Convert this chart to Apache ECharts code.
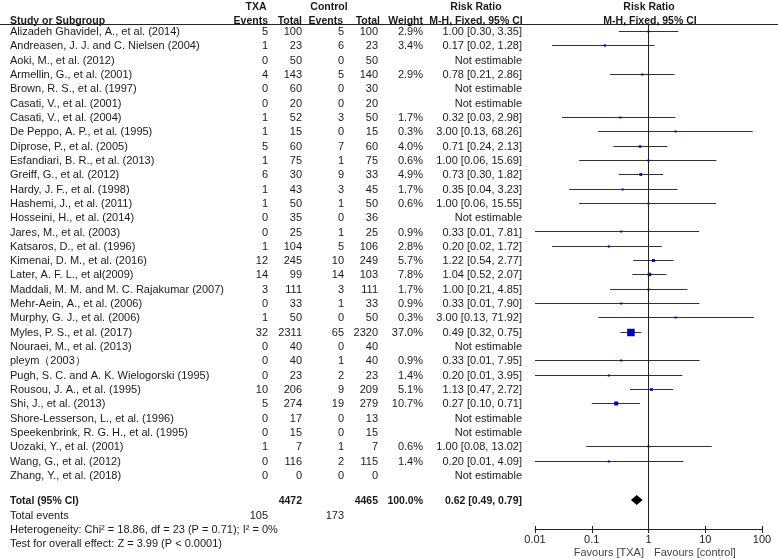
<!DOCTYPE html>
<html>
<head>
<meta charset="utf-8">
<script src="https://cdn.jsdelivr.net/npm/echarts/dist/echarts.min.js"></script>
<style>html,body{margin:0;padding:0;background:#fff}#main{width:778px;height:559px}</style>
</head>
<body>
<div id="main"></div>
<script>
// data
var studies = ['Alizadeh Ghavidel, A., et al. (2014)', 'Andreasen, J. J. and C. Nielsen (2004)', 'Aoki, M., et al. (2012)',
  'Armellin, G., et al. (2001)', 'Brown, R. S., et al. (1997)', 'Casati, V., et al. (2001)', 'Casati, V., et al. (2004)',
  'De Peppo, A. P., et al. (1995)', 'Diprose, P., et al. (2005)', 'Esfandiari, B. R., et al. (2013)', 'Greiff, G., et al. (2012)',
  'Hardy, J. F., et al. (1998)', 'Hashemi, J., et al. (2011)', 'Hosseini, H., et al. (2014)', 'Jares, M., et al. (2003)',
  'Katsaros, D., et al. (1996)', 'Kimenai, D. M., et al. (2016)', 'Later, A. F. L., et al(2009)',
  'Maddali, M. M. and M. C. Rajakumar (2007)', 'Mehr-Aein, A., et al. (2006)', 'Murphy, G. J., et al. (2006)',
  'Myles, P. S., et al. (2017)', 'Nouraei, M., et al. (2013)', 'pleym（2003）', 'Pugh, S. C. and A. K. Wielogorski (1995)',
  'Rousou, J. A., et al. (1995)', 'Shi, J., et al. (2013)', 'Shore-Lesserson, L., et al. (1996)',
  'Speekenbrink, R. G. H., et al. (1995)', 'Uozaki, Y., et al. (2001)', 'Wang, G., et al. (2012)', 'Zhang, Y., et al. (2018)'];
var txaEvents = [5, 1, 0, 4, 0, 0, 1, 1, 5, 1, 6, 1, 1, 0, 0, 1, 12, 14, 3, 0, 1, 32, 0, 0, 0, 10, 5, 0, 0, 1, 0, 0];
var txaTotal = [100, 23, 50, 143, 60, 20, 52, 15, 60, 75, 30, 43, 50, 35, 25, 104, 245, 99, 111, 33, 50, 2311, 40, 40, 23, 206, 274, 17, 15, 7, 116, 0];
var ctlEvents = [5, 6, 0, 5, 0, 0, 3, 0, 7, 1, 9, 3, 1, 0, 1, 5, 10, 14, 3, 1, 0, 65, 0, 1, 2, 9, 19, 0, 0, 1, 2, 0];
var ctlTotal = [100, 23, 50, 140, 30, 20, 50, 15, 60, 75, 33, 45, 50, 36, 25, 106, 249, 103, 111, 33, 50, 2320, 40, 40, 23, 209, 279, 13, 15, 7, 115, 0];
// null = not estimable
var weights = [2.9, 3.4, null, 2.9, null, null, 1.7, 0.3, 4.0, 0.6, 4.9, 1.7, 0.6, null, 0.9, 2.8, 5.7, 7.8, 1.7, 0.9, 0.3, 37.0, null, 0.9, 1.4, 5.1, 10.7, null, null, 0.6, 1.4, null];
var rr = [1.00, 0.17, null, 0.78, null, null, 0.32, 3.00, 0.71, 1.00, 0.73, 0.35, 1.00, null, 0.33, 0.20, 1.22, 1.04, 1.00, 0.33, 3.00, 0.49, null, 0.33, 0.20, 1.13, 0.27, null, null, 1.00, 0.20, null];
var ciLow = [0.30, 0.02, null, 0.21, null, null, 0.03, 0.13, 0.24, 0.06, 0.30, 0.04, 0.06, null, 0.01, 0.02, 0.54, 0.52, 0.21, 0.01, 0.13, 0.32, null, 0.01, 0.01, 0.47, 0.10, null, null, 0.08, 0.01, null];
var ciHigh = [3.35, 1.28, null, 2.86, null, null, 2.98, 68.26, 2.13, 15.69, 1.82, 3.23, 15.55, null, 7.81, 1.72, 2.77, 2.07, 4.85, 7.90, 71.92, 0.75, null, 7.95, 3.95, 2.72, 0.71, null, null, 13.02, 4.09, null];
var total = { txa: 4472, ctl: 4465, txaEvents: 105, ctlEvents: 173, rr: 0.62, low: 0.49, high: 0.79 };
var xTicks = [0.01, 0.1, 1, 10, 100];

// layout
var FIRST = 31, ROW = 14.32;
function rowAt(py) { return (py - FIRST) / ROW; }
var FONT = '11px "Liberation Sans", Arial, sans-serif';
var BOLD = 'bold 10.5px "Liberation Sans", Arial, sans-serif';

var chart = echarts.init(document.getElementById('main'));

function fmtCI(r, l, h) { return r.toFixed(2) + ' [' + l.toFixed(2) + ', ' + h.toFixed(2) + ']'; }

var idx = studies.map(function (s, i) { return i; });
var wText = weights.map(function (w) { return w == null ? '' : w.toFixed(1) + '%'; });
var rrText = rr.map(function (r, i) { return r == null ? 'Not estimable' : fmtCI(r, ciLow[i], ciHigh[i]); });

function textSeries(xpos, rows, texts, align, font, color) {
  return {
    type: 'custom', xAxisIndex: 2, yAxisIndex: 1, silent: true, clip: false,
    data: rows.map(function (r) { return [xpos, r]; }),
    renderItem: function (params, api) {
      var p = api.coord([api.value(0), api.value(1)]);
      return {
        type: 'text',
        style: {
          text: texts[params.dataIndex], x: p[0], y: p[1] + 1,
          align: align, textAlign: align, verticalAlign: 'middle', textVerticalAlign: 'middle',
          font: font || FONT, fill: color || '#1a1a1a'
        }
      };
    }
  };
}

var h1 = rowAt(6), h2 = rowAt(20);
var tRow = rowAt(500), evRow = rowAt(515), hetRow = rowAt(529), testRow = rowAt(543), favRow = rowAt(552);

var forestData = [];
idx.forEach(function (i) {
  if (rr[i] != null) forestData.push([rr[i], i, ciLow[i], ciHigh[i], weights[i]]);
});

var series = [
  {
    type: 'custom', xAxisIndex: 0, yAxisIndex: 0, silent: true,
    data: forestData,
    renderItem: function (params, api) {
      var y = api.value(1);
      var a = api.coord([api.value(2), y]);
      var b = api.coord([api.value(3), y]);
      var c = api.coord([api.value(0), y]);
      var yy = Math.round(c[1]) + 0.5;
      var s = Math.max(2, 7.5 * Math.sqrt(api.value(4) / 37));
      return {
        type: 'group',
        children: [
          { type: 'line', shape: { x1: a[0], y1: yy, x2: b[0], y2: yy }, style: { stroke: '#333', lineWidth: 1 } },
          { type: 'rect', shape: { x: c[0] - s / 2, y: yy - s / 2, width: s, height: s }, style: { fill: '#0000b4' } }
        ]
      };
    },
    markLine: {
      silent: true, symbol: 'none', label: { show: false },
      lineStyle: { color: '#222', width: 1, type: 'solid' },
      data: [{ xAxis: 1 }]
    }
  },
  {
    // overall diamond
    type: 'custom', xAxisIndex: 0, yAxisIndex: 0, silent: true,
    data: [[total.rr, tRow, total.low, total.high]],
    renderItem: function (params, api) {
      var y = api.value(1);
      var l = api.coord([api.value(2), y]);
      var r = api.coord([api.value(3), y]);
      var m = api.coord([api.value(0), y]);
      return {
        type: 'polygon',
        shape: { points: [[l[0], m[1]], [m[0], m[1] - 5], [r[0], m[1]], [m[0], m[1] + 5]] },
        style: { fill: '#000' }
      };
    }
  },
  // header
  textSeries(256, [h1], ['TXA'], 'center', BOLD),
  textSeries(329, [h1], ['Control'], 'center', BOLD),
  textSeries(476, [h1], ['Risk Ratio'], 'center', BOLD),
  textSeries(649, [h1], ['Risk Ratio'], 'center', BOLD),
  textSeries(10, [h2], ['Study or Subgroup'], 'left', BOLD),
  textSeries(268, [h2], ['Events'], 'right', BOLD),
  textSeries(302, [h2], ['Total'], 'right', BOLD),
  textSeries(343, [h2], ['Events'], 'right', BOLD),
  textSeries(380, [h2], ['Total'], 'right', BOLD),
  textSeries(423, [h2], ['Weight'], 'right', BOLD),
  textSeries(476, [h2], ['M-H, Fixed, 95% CI'], 'center', BOLD),
  textSeries(650, [h2], ['M-H, Fixed, 95% CI'], 'center', BOLD),
  // study rows
  textSeries(10, idx, studies, 'left'),
  textSeries(268, idx, txaEvents.map(String), 'right'),
  textSeries(302, idx, txaTotal.map(String), 'right'),
  textSeries(344, idx, ctlEvents.map(String), 'right'),
  textSeries(378, idx, ctlTotal.map(String), 'right'),
  textSeries(423, idx, wText, 'right'),
  textSeries(522, idx, rrText, 'right'),
  // totals
  textSeries(10, [tRow], ['Total (95% CI)'], 'left', BOLD),
  textSeries(302, [tRow], [String(total.txa)], 'right', BOLD),
  textSeries(378, [tRow], [String(total.ctl)], 'right', BOLD),
  textSeries(423, [tRow], ['100.0%'], 'right', BOLD),
  textSeries(522, [tRow], [fmtCI(total.rr, total.low, total.high)], 'right', BOLD),
  textSeries(10, [evRow], ['Total events'], 'left'),
  textSeries(268, [evRow], [String(total.txaEvents)], 'right'),
  textSeries(344, [evRow], [String(total.ctlEvents)], 'right'),
  textSeries(10, [hetRow], ['Heterogeneity: Chi² = 18.86, df = 23 (P = 0.71); I² = 0%'], 'left'),
  textSeries(10, [testRow], ['Test for overall effect: Z = 3.99 (P < 0.0001)'], 'left'),
  textSeries(644, [favRow], ['Favours [TXA]'], 'right', FONT, '#444'),
  textSeries(654, [favRow], ['Favours [control]'], 'left', FONT, '#444')
];

function tickLabel(v) {
  var e = Math.round(Math.log(v) / Math.LN10);
  return e < 0 ? Math.pow(10, e).toFixed(-e) : String(Math.pow(10, e));
}

var option = {
  animation: false,
  backgroundColor: '#fff',
  grid: [
    { left: 535, width: 227, top: 25, height: 504 },
    { left: 0, right: 0, top: 0, bottom: 0 }
  ],
  xAxis: [
    {
      type: 'log', gridIndex: 0, logBase: 10, min: xTicks[0], max: xTicks[xTicks.length - 1],
      splitNumber: xTicks.length - 1, position: 'bottom',
      axisLine: { show: true, onZero: false, lineStyle: { color: '#222', width: 1 } },
      axisTick: { show: true, length: 4, lineStyle: { color: '#222' } },
      axisLabel: { show: true, margin: 5, color: '#222', fontSize: 11, fontFamily: '"Liberation Sans", Arial, sans-serif', formatter: tickLabel },
      splitLine: { show: false }
    },
    {
      type: 'log', gridIndex: 0, logBase: 10, min: xTicks[0], max: xTicks[xTicks.length - 1],
      splitNumber: xTicks.length - 1, position: 'bottom',
      axisLine: { show: false, onZero: false },
      axisTick: { show: true, inside: true, length: 3, lineStyle: { color: '#222' } },
      axisLabel: { show: false },
      splitLine: { show: false }
    },
    { type: 'value', gridIndex: 1, min: 0, max: 778, show: false }
  ],
  yAxis: [
    { type: 'value', gridIndex: 0, inverse: true, min: rowAt(25), max: rowAt(529), show: false },
    { type: 'value', gridIndex: 1, inverse: true, min: rowAt(0), max: rowAt(559), show: false }
  ],
  graphic: [
    { type: 'line', shape: { x1: 0, y1: 24.5, x2: 778, y2: 24.5 }, style: { stroke: '#222', lineWidth: 1 }, silent: true }
  ],
  series: series
};

chart.setOption(option, true);
</script>
</body>
</html>
